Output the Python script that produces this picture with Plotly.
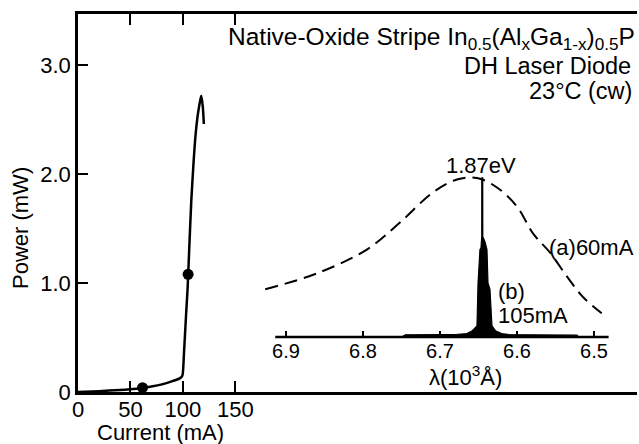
import plotly.graph_objects as go

# ---------------- data ----------------
# Light-current characteristic (main plot)
li_current = [0, 20, 40, 50, 60, 70, 80, 90, 97, 99.5, 101, 103, 104.5, 106, 108, 110, 112, 114, 116, 117.5, 119, 120]
li_power = [0.0, 0.008, 0.018, 0.025, 0.035, 0.05, 0.07, 0.1, 0.125, 0.15, 0.35, 0.7, 0.95, 1.3, 1.75, 2.08, 2.35, 2.53, 2.65, 2.72, 2.62, 2.46]
dot_current = [61.5, 105]
dot_power = [0.04, 1.08]

x_ticks = [0, 50, 100, 150]
x_ticktext = ["0", "50", "100", "150"]
y_ticks = [0, 1, 2, 3]
y_ticktext = ["0", "1.0", "2.0", "3.0"]
main_x_range = [0, 533]
main_y_range = [0, 3.47]

# Spectrum (a) 60 mA, spontaneous emission (relative intensity)
spec_a_wl = [6.927, 6.860, 6.795, 6.752, 6.709, 6.678, 6.652, 6.626, 6.600, 6.579, 6.557, 6.535, 6.514, 6.490]
spec_a_int = [0.30, 0.40, 0.55, 0.72, 0.91, 0.99, 1.00, 0.94, 0.82, 0.65, 0.53, 0.38, 0.25, 0.15]

# Spectrum (b) 105 mA, lasing (relative intensity envelope)
spec_b_wl = [6.750, 6.745, 6.70, 6.68, 6.665, 6.658, 6.652, 6.6506, 6.6481, 6.6468, 6.6458, 6.6457, 6.6445,
             6.6444, 6.6416, 6.6390, 6.6377, 6.6351, 6.6325, 6.628, 6.620, 6.61, 6.58, 6.54, 6.522, 6.520]
spec_b_int = [0.0, 0.014, 0.015, 0.016, 0.022, 0.04, 0.07, 0.34, 0.55, 0.56, 0.63, 1.0, 1.0,
              0.63, 0.60, 0.55, 0.34, 0.30, 0.07, 0.04, 0.022, 0.016, 0.014, 0.015, 0.012, 0.0]

inset_ticks = [6.9, 6.8, 6.7, 6.6, 6.5]
inset_ticktext = ["6.9", "6.8", "6.7", "6.6", "6.5"]
inset_axis_span = [6.914, 6.481]

FONT = "Liberation Sans, Arial, Helvetica, sans-serif"
W, H = 639, 444


def px(x):
    return x / W


def py(y):
    return 1 - y / H


fig = go.Figure()

# main L-I curve
fig.add_trace(go.Scatter(x=li_current, y=li_power, mode="lines",
                         line=dict(color="black", width=2.5, shape="spline", smoothing=0.6),
                         cliponaxis=False, xaxis="x", yaxis="y", showlegend=False))
fig.add_trace(go.Scatter(x=dot_current, y=dot_power, mode="markers",
                         marker=dict(color="black", size=11),
                         cliponaxis=False, xaxis="x", yaxis="y", showlegend=False))

# inset: baseline
fig.add_trace(go.Scatter(x=inset_axis_span, y=[0, 0], mode="lines",
                         line=dict(color="black", width=2.5),
                         xaxis="x2", yaxis="y2", showlegend=False))
# inset: spectrum (a)
fig.add_trace(go.Scatter(x=spec_a_wl, y=spec_a_int, mode="lines",
                         line=dict(color="black", width=2, dash="13px,7px", shape="spline", smoothing=1.0),
                         xaxis="x2", yaxis="y2", showlegend=False))
# inset: spectrum (b)
fig.add_trace(go.Scatter(x=spec_b_wl, y=spec_b_int, mode="lines",
                         line=dict(color="black", width=1.2),
                         fill="tozeroy", fillcolor="black",
                         xaxis="x2", yaxis="y2", showlegend=False))

tickfont = dict(family=FONT, size=22, color="black")

fig.update_layout(
    template="none",
    width=W, height=H,
    margin=dict(l=0, r=0, t=0, b=0, pad=0),
    paper_bgcolor="white", plot_bgcolor="rgba(0,0,0,0)",
    font=dict(family=FONT, color="black"),
    xaxis=dict(domain=[px(78), px(637)], range=main_x_range, anchor="y", automargin=False,
               showline=True, linecolor="black", linewidth=2.5, mirror="ticks",
               ticks="inside", ticklen=11, tickwidth=2, tickcolor="black",
               tickvals=x_ticks, ticktext=x_ticktext, tickfont=tickfont,
               ticklabelstandoff=-4,
               showgrid=False, zeroline=False),
    yaxis=dict(domain=[py(392), py(14)], range=main_y_range, anchor="x", automargin=False,
               showline=True, linecolor="black", linewidth=2.5,
               ticks="inside", ticklen=10, tickwidth=2, tickcolor="black",
               tickvals=y_ticks, ticktext=y_ticktext, tickfont=tickfont,
               showgrid=False, zeroline=False),
    xaxis2=dict(domain=[px(265), px(610)], range=[6.9273, 6.4792], automargin=False,
                anchor="free", position=py(337),
                showline=False, ticks="inside", ticklen=6, tickwidth=2, tickcolor="black",
                tickvals=inset_ticks, ticktext=inset_ticktext,
                tickfont=dict(family=FONT, size=20, color="black"),
                showgrid=False, zeroline=False),
    yaxis2=dict(domain=[py(345), py(170)], range=[-0.05, 1.05], anchor="x2", automargin=False,
                visible=False, showgrid=False, zeroline=False),
)

ann = dict(showarrow=False, xref="paper", yref="paper", font=dict(family=FONT, size=22, color="black"))
hdr = dict(family=FONT, size=23.5, color="black")
annotations = [
    dict(text="Native-Oxide Stripe In<sub>0.5</sub>(Al<sub>x</sub>Ga<sub>1-x</sub>)<sub>0.5</sub>P",
         x=px(637), y=py(39), xanchor="right", yanchor="middle", font=dict(family=FONT, size=24.5, color="black")),
    dict(text="DH Laser Diode", x=px(633), y=py(66), xanchor="right", yanchor="middle", font=hdr),
    dict(text="23°C (cw)", x=px(634), y=py(91), xanchor="right", yanchor="middle", font=hdr),
    dict(text="1.87eV", x=px(481), y=py(165), xanchor="center", yanchor="middle"),
    dict(text="(a)60mA", x=px(547), y=py(247), xanchor="left", yanchor="middle"),
    dict(text="(b)", x=px(496), y=py(291), xanchor="left", yanchor="middle"),
    dict(text="105mA", x=px(496), y=py(315), xanchor="left", yanchor="middle"),
    dict(text="λ(10<sup>3</sup>Å)", x=px(465), y=py(376), xanchor="center", yanchor="middle"),
    dict(text="Power (mW)", x=px(20), y=py(228), xanchor="center", yanchor="middle", textangle=-90),
    dict(text="Current (mA)", x=px(161), y=py(432), xanchor="center", yanchor="middle"),
]
fig.update_layout(annotations=[{**ann, **a} for a in annotations])

fig.write_html("out.html", config={"displayModeBar": False},
               post_script="document.body.style.margin='0';document.body.style.overflow='hidden';")
